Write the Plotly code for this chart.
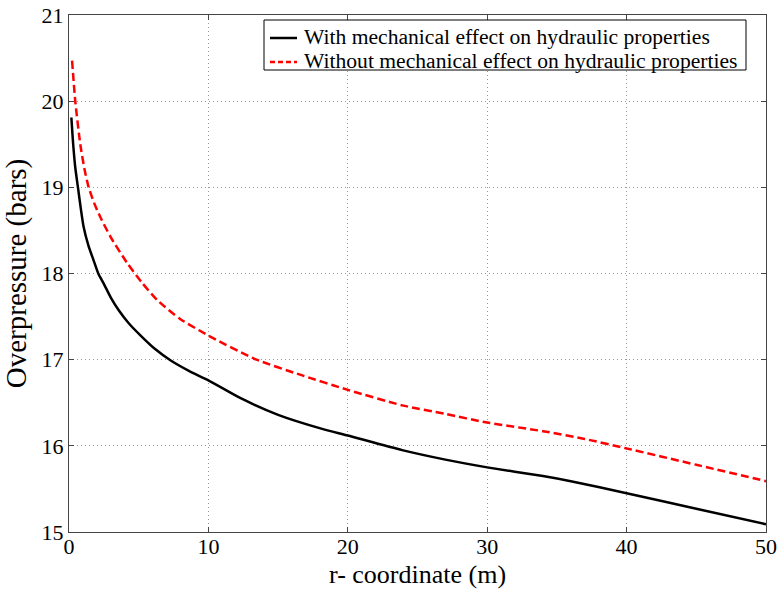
import plotly.graph_objects as go

# r-coordinate (m) and overpressure (bars)
r_with = [0.17, 0.3, 0.45, 0.65, 0.85, 1.05, 1.4, 1.77, 2.1, 2.5, 3.0, 3.58, 4.3, 5.14, 6.2, 7.3, 8.6, 10, 12.35, 15, 18.1, 20, 23.9, 27, 30, 34, 36, 40, 45, 50]
p_with = [19.81, 19.5, 19.23, 18.99, 18.75, 18.54, 18.32, 18.15, 18.0, 17.88, 17.72, 17.57, 17.42, 17.28, 17.12, 16.99, 16.87, 16.76, 16.55, 16.36, 16.20, 16.12, 15.95, 15.84, 15.75, 15.65, 15.59, 15.45, 15.27, 15.09]

r_without = [0.22, 0.45, 0.81, 1.1, 1.41, 1.8, 2.26, 3.0, 4.18, 5.2, 6.34, 8.0, 10, 13.3, 16.68, 20, 23.9, 27, 30, 34, 37, 40, 45, 50]
p_without = [20.47, 20.0, 19.50, 19.22, 19.0, 18.82, 18.65, 18.42, 18.12, 17.90, 17.69, 17.47, 17.28, 17.01, 16.82, 16.65, 16.47, 16.37, 16.27, 16.17, 16.08, 15.97, 15.78, 15.59]

x_ticks = [0, 10, 20, 30, 40, 50]
y_ticks = [15, 16, 17, 18, 19, 20, 21]

series_names = ["With mechanical effect on hydraulic properties",
                "Without mechanical effect on hydraulic properties"]
series_colors = ["black", "#ff0000"]
series_dash = ["solid", "8px,4px"]

FONT = "Liberation Serif"

fig = go.Figure()
fig.add_trace(go.Scatter(x=r_with, y=p_with, mode="lines", name=series_names[0],
                         line=dict(color=series_colors[0], width=2.5, dash=series_dash[0],
                                   shape="spline", smoothing=0.6)))
fig.add_trace(go.Scatter(x=r_without, y=p_without, mode="lines", name=series_names[1],
                         line=dict(color=series_colors[1], width=2.5, dash=series_dash[1],
                                   shape="spline", smoothing=0.6)))

axis_common = dict(
    showline=True, linecolor="#444444", linewidth=1, mirror="ticks",
    ticks="inside", ticklen=5, tickcolor="#444444",
    showgrid=True, gridcolor="#999999", gridwidth=1, griddash="1px,3px",
    zeroline=False, automargin=False,
    tickfont=dict(family=FONT, size=22, color="black"),
)

fig.update_xaxes(range=[0, 50], tickvals=x_ticks, ticklabelstandoff=-5, **axis_common)
fig.update_yaxes(range=[15, 21], tickvals=y_ticks,
                 title=dict(text="Overpressure (bars)", font=dict(family=FONT, size=29, color="black"), standoff=6),
                 **axis_common)

# x-axis title placed below the tick labels
fig.add_annotation(text="r- coordinate (m)", xref="paper", yref="paper",
                   x=0.5, y=-0.083, xanchor="center", yanchor="middle", showarrow=False,
                   font=dict(family=FONT, size=26, color="black"))

# Legend box (MATLAB style), in paper coordinates
W, H, L, T = 697, 517, 69, 15
def px(xp):
    return (xp - L) / W
def py(yp):
    return (T + H - yp) / H

fig.add_shape(type="rect", xref="paper", yref="paper",
              x0=px(264), x1=px(746), y0=py(70), y1=py(20),
              line=dict(color="black", width=1), fillcolor="white", layer="above")
for i, yy in enumerate([37, 61]):
    fig.add_shape(type="line", xref="paper", yref="paper",
                  x0=px(270), x1=px(297), y0=py(yy + 1), y1=py(yy + 1),
                  line=dict(color=series_colors[i], width=2.5,
                            dash="solid" if i == 0 else "5px,3px"), layer="above")
    fig.add_annotation(text=series_names[i], xref="paper", yref="paper",
                       x=px(302), y=py(yy), xanchor="left", yanchor="middle", showarrow=False,
                       font=dict(family=FONT, size=21.6, color="black"))

fig.update_layout(
    width=779, height=590,
    margin=dict(l=L, r=779 - L - W, t=T, b=590 - T - H),
    paper_bgcolor="white", plot_bgcolor="white",
    font=dict(family=FONT, color="black"),
    showlegend=False,
)

fig.write_html("out.html")
